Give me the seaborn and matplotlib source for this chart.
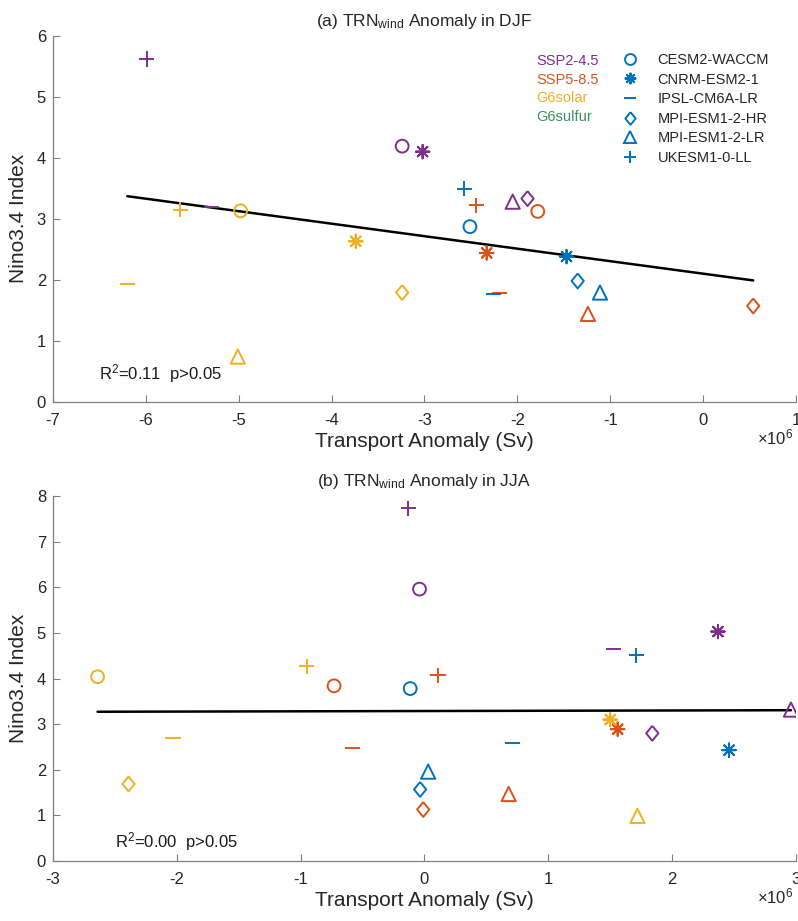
# Nino3.4 index vs wind-driven transport anomaly, two seasons

import numpy as np
import pandas as pd
import matplotlib
matplotlib.use('Agg')
import matplotlib.pyplot as plt
from matplotlib.lines import Line2D
from matplotlib.ticker import FuncFormatter
import seaborn as sns

# %% data (rows = scenario, cols = model), transport in units of 1e6 Sv

scenarios = ['SSP2-4.5', 'SSP5-8.5', 'G6solar', 'G6sulfur']
models = ['CESM2-WACCM', 'CNRM-ESM2-1', 'IPSL-CM6A-LR',
          'MPI-ESM1-2-HR', 'MPI-ESM1-2-LR', 'UKESM1-0-LL']

djf_x = [[-3.24, -3.02, -5.29, -1.89, -2.05, -5.99],
         [-1.78, -2.33, -2.19, 0.54, -1.24, -2.44],
         [-4.98, -3.74, -6.20, -3.24, -5.01, -5.63],
         [-2.51, -1.47, -2.26, -1.35, -1.11, -2.57]]
djf_y = [[4.19, 4.10, 3.20, 3.33, 3.28, 5.62],
         [3.12, 2.44, 1.78, 1.57, 1.44, 3.22],
         [3.13, 2.63, 1.93, 1.79, 0.74, 3.15],
         [2.87, 2.38, 1.76, 1.98, 1.79, 3.49]]

jja_x = [[-0.04, 2.37, 1.525, 1.84, 2.96, -0.13],
         [-0.73, 1.56, -0.58, -0.01, 0.68, 0.11],
         [-2.64, 1.50, -2.03, -2.39, 1.72, -0.95],
         [-0.115, 2.46, 0.71, -0.035, 0.03, 1.71]]
jja_y = [[5.96, 5.03, 4.64, 2.80, 3.32, 7.73],
         [3.84, 2.89, 2.48, 1.13, 1.47, 4.07],
         [4.04, 3.10, 2.69, 1.69, 0.99, 4.27],
         [3.78, 2.43, 2.58, 1.57, 1.96, 4.51]]

scale = 1e6

# %% styles

point_colors = ['#7E2F8E', '#D95319', '#EDB120', '#0072BD']
label_colors = ['#7E2F8E', '#D95319', '#EDB120', '#3E8E63']
diamond = [(0, 1), (0.82, 0), (0, -1), (-0.82, 0), (0, 1)]
markers = ['o', (8, 2, 0), '_', diamond, '^', '+']
sizes = [85, 95, 120, 115, 105, 120]
hollow = [True, False, False, True, True, False]
palette = dict(zip(scenarios, point_colors))
mk_blue = '#0072BD'

sns.set_style('ticks')
plt.rcParams['font.family'] = ['Liberation Sans', 'DejaVu Sans']
plt.rcParams['mathtext.default'] = 'regular'
plt.rcParams['axes.unicode_minus'] = False


def to_frame(xs, ys):
    rows = []
    for i, s in enumerate(scenarios):
        for j, m in enumerate(models):
            rows.append([s, m, xs[i][j] * scale, ys[i][j]])
    return pd.DataFrame(rows, columns=['scenario', 'model', 'x', 'y'])


def panel(ax, df, title, xlim, ylim, txt_xy):
    for j, m in enumerate(models):
        sub = df[df.model == m]
        sns.scatterplot(data=sub, x='x', y='y', hue='scenario', palette=palette,
                        marker=markers[j], s=sizes[j], linewidth=1.4,
                        legend=False, ax=ax, zorder=3)
        coll = ax.collections[-1]
        if hollow[j]:
            fc = coll.get_facecolors().copy()
            coll.set_edgecolors(fc)
            coll.set_facecolors('none')
    sns.regplot(data=df, x='x', y='y', scatter=False, ci=None, truncate=True,
                color='k', line_kws={'lw': 1.8, 'zorder': 2}, ax=ax)
    r2 = np.corrcoef(df.x, df.y)[0, 1] ** 2
    ax.text(txt_xy[0] * scale, txt_xy[1], 'R$^2$=%.2f  p>0.05' % r2,
            fontsize=12, va='center', ha='left', color='#1a1a1a')
    ax.set_xlim(xlim[0] * scale, xlim[1] * scale)
    ax.set_ylim(*ylim)
    ax.set_xticks(np.arange(xlim[0], xlim[1] + 1) * scale)
    ax.set_yticks(np.arange(ylim[0], ylim[1] + 1))
    ax.xaxis.set_major_formatter(FuncFormatter(lambda v, p: '%g' % (v / scale)))
    ax.text(0.997, -0.098, r'$\times$10$^6$', transform=ax.transAxes,
            ha='right', va='center', fontsize=12, color='#262626')
    ax.set_xlabel('Transport Anomaly (Sv)', fontsize=15, labelpad=3)
    ax.set_ylabel('Nino3.4 Index', fontsize=15, labelpad=6)
    ax.set_title(title, fontsize=12.5, pad=7)
    ax.tick_params(direction='in', length=5, width=0.8, color='#808080',
                   labelsize=12, labelcolor='#262626')
    ax.tick_params(axis='x', pad=8)
    ax.tick_params(axis='y', pad=5)
    for sp in ['left', 'bottom']:
        ax.spines[sp].set_color('#808080')
        ax.spines[sp].set_linewidth(0.9)
    sns.despine(ax=ax)


fig = plt.figure(figsize=(7.98, 9.21), dpi=100)
ax1 = fig.add_axes([0.0664, 0.5638, 0.931, 0.3974])
ax2 = fig.add_axes([0.0664, 0.0651, 0.931, 0.3963])

panel(ax1, to_frame(djf_x, djf_y), '(a) TRN$_{wind}$ Anomaly in DJF',
      (-7, 1), (0, 6), (-6.5, 0.46))
panel(ax2, to_frame(jja_x, jja_y), '(b) TRN$_{wind}$ Anomaly in JJA',
      (-3, 3), (0, 8), (-2.5, 0.42))

# key: scenario names as coloured text, model markers in blue
for k, s in enumerate(scenarios):
    fig.text(536 / 798, 1 - (61 + 18.5 * k) / 921, s, color=label_colors[k],
             fontsize=10.5, va='center', ha='left')

handles = []
for j, m in enumerate(models):
    handles.append(Line2D([], [], ls='none', marker=markers[j], color=mk_blue,
                          mfc='none' if hollow[j] else mk_blue, mec=mk_blue,
                          mew=1.4, ms=np.sqrt(sizes[j]) * 0.85))
fig.legend(handles, models, loc='upper left', bbox_to_anchor=(621 / 798, 1 - 53 / 921),
           frameon=False, borderpad=0, borderaxespad=0, handlelength=1.2,
           handletextpad=1.3, labelspacing=0.38, fontsize=10.5)

fig.savefig('out.png', dpi=100)
